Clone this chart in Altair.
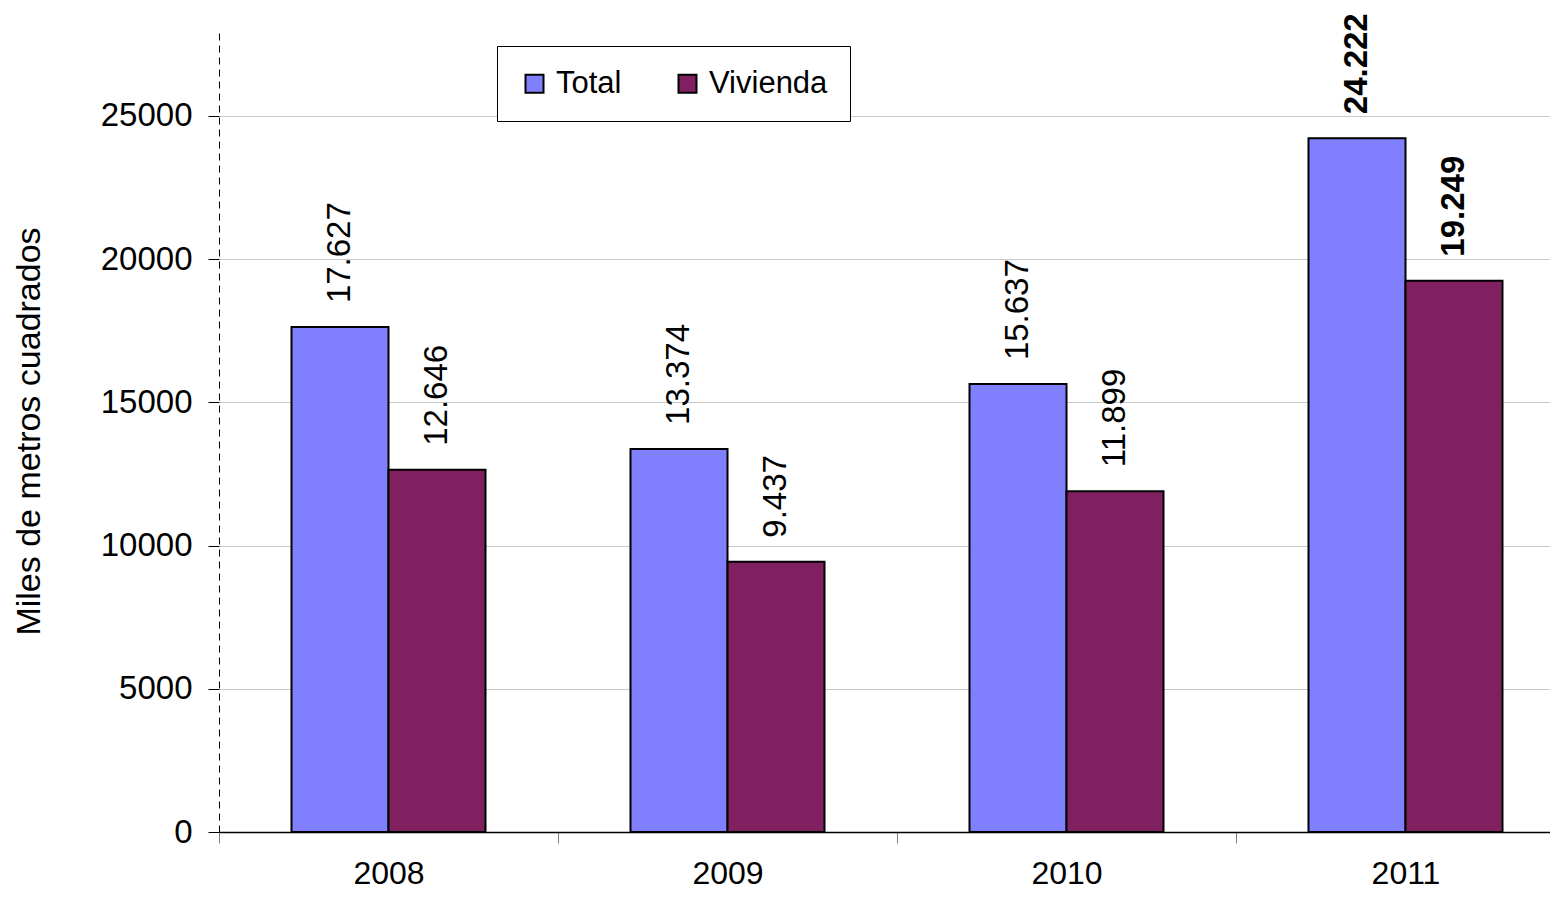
import altair as alt
import pandas as pd

# ---- data ----
years = ["2008", "2009", "2010", "2011"]
total = [17627, 13374, 15637, 24222]
vivienda = [12646, 9437, 11899, 19249]
series = ["Total", "Vivienda"]
colors = ["#8080FF", "#802060"]
y_ticks = [0, 5000, 10000, 15000, 20000, 25000]
bold_year = "2011"

rows = []
for i, yr in enumerate(years):
    rows.append({"year": yr, "serie": "Total", "value": total[i]})
    rows.append({"year": yr, "serie": "Vivienda", "value": vivienda[i]})
df = pd.DataFrame(rows)

FONT = "Liberation Sans"
W, H = 1331, 802

x = alt.X(
    "year:N", sort=years, title=None,
    scale=alt.Scale(range=[0, 1356], paddingInner=0, paddingOuter=0),
    axis=alt.Axis(labelAngle=0, labelFontSize=32, labelFont=FONT, labelColor="black",
                  labelPadding=15, tickBand="extent", tickSize=11, tickColor="#808080",
                  domainColor="black", domainWidth=1.5, grid=False),
)
xo = alt.XOffset("serie:N", sort=series,
                 scale=alt.Scale(paddingOuter=0.7474, paddingInner=0))
y = alt.Y(
    "value:Q", scale=alt.Scale(domain=[0, 28000], nice=False),
    title="Miles de metros cuadrados",
    axis=alt.Axis(values=y_ticks, format="d", labelFontSize=33, labelFont=FONT,
                  labelColor="black", labelPadding=16, tickSize=11, tickColor="black",
                  domainColor="black", domainDash=[7, 5], domainWidth=1,
                  gridColor="#c8c8c8", gridWidth=1, titleFont=FONT, titleFontSize=34,
                  titleFontWeight="normal", titleColor="black", titlePadding=54),
)
color = alt.Color(
    "serie:N", sort=series, scale=alt.Scale(domain=series, range=colors),
    legend=alt.Legend(title=None, orient="none", legendX=278, legendY=16,
                      direction="horizontal", fillColor="white", strokeColor="black",
                      padding=22, symbolType="square", symbolSize=324,
                      symbolStrokeColor="black", symbolStrokeWidth=2,
                      labelFontSize=31, labelFont=FONT, labelColor="black",
                      labelOffset=6, columnPadding=50),
)

base = alt.Chart(df)

bars = base.mark_bar(stroke="black", strokeWidth=2).encode(x=x, xOffset=xo, y=y, color=color)

lab = base.transform_calculate(
    label="replace(format(datum.value, ','), ',', '.')"
)
labels = lab.transform_filter(alt.datum.year != bold_year).mark_text(
    angle=270, align="left", baseline="middle", dx=24, fontSize=33, font=FONT, color="black"
).encode(x=x, xOffset=xo, y=y, text="label:N")
labels_bold = lab.transform_filter(alt.datum.year == bold_year).mark_text(
    angle=270, align="left", baseline="middle", dx=24, fontSize=33, font=FONT,
    color="black", fontWeight="bold"
).encode(x=x, xOffset=xo, y=y, text="label:N")

chart = alt.layer(bars, labels, labels_bold).properties(
    width=W, height=H,
    autosize=alt.AutoSizeParams(type="none"),
    padding={"left": 211, "top": 22, "right": 0, "bottom": 58},
).configure_view(stroke=None)

chart.save("out.html", embed_options={"renderer": "svg", "actions": False})
